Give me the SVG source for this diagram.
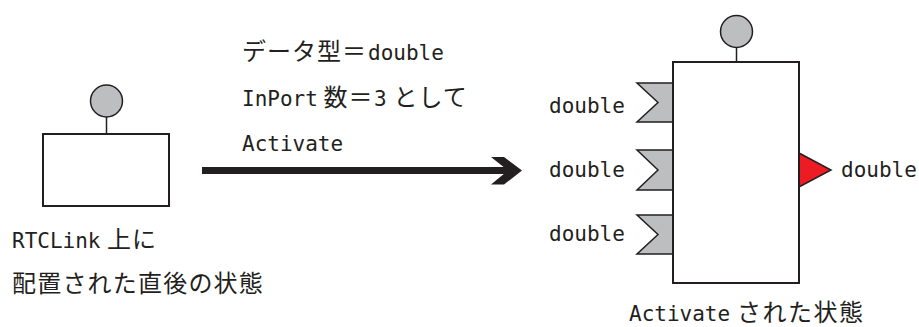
<svg xmlns="http://www.w3.org/2000/svg" width="919" height="327" viewBox="0 0 919 327">
<style>
.lat{font-family:"DejaVu Sans Mono","Liberation Mono",monospace;font-size:21px;fill:#231f20}
.jp{font-family:"Noto Sans CJK JP",sans-serif;font-size:24px;fill:#231f20;letter-spacing:1px}
.box{fill:#fff;stroke:#231f20;stroke-width:2}
.ec{fill:#bcbec0;stroke:#231f20;stroke-width:1.5}
.stem{stroke:#231f20;stroke-width:1.5}
.inp{fill:#bcbec0;stroke:#231f20;stroke-width:1.5;stroke-linejoin:miter}
.outp{fill:#ed1c24;stroke:#231f20;stroke-width:1.5}
</style>
<rect width="919" height="327" fill="#fff"/>
<g id="node-before">
<line class="stem" x1="106.5" y1="117" x2="106.5" y2="134"/>
<circle class="ec" cx="106.5" cy="101" r="16"/>
<rect class="box" x="43" y="134" width="126" height="72"/>
<text x="12" y="248"><tspan class="lat">RTCLink</tspan><tspan class="jp"> 上に</tspan></text>
<text class="jp" x="12" y="292" style="letter-spacing:1.2px">配置された直後の状態</text>
</g>
<g id="node-after">
<line class="stem" x1="736.5" y1="47" x2="736.5" y2="62"/>
<circle class="ec" cx="736.5" cy="31.5" r="16"/>
<polygon class="inp" points="637,83 673,83 673,122 637,122 658,102.5"/>
<polygon class="inp" points="637,150 673,150 673,190 637,190 658,170"/>
<polygon class="inp" points="637,215 673,215 673,254 637,254 658,234.5"/>
<polygon class="outp" points="799,153 831,170 799,187"/>
<rect class="box" x="673" y="62" width="126" height="221"/>
<text class="lat" x="549" y="113">double</text>
<text class="lat" x="549" y="177">double</text>
<text class="lat" x="549" y="241">double</text>
<text class="lat" x="841" y="177">double</text>
<text x="629" y="321"><tspan class="lat">Activate</tspan><tspan class="jp" style="letter-spacing:1.5px"> された状態</tspan></text>
</g>
<g id="connectors">
<line x1="202" y1="170.5" x2="510" y2="170.5" stroke="#231f20" stroke-width="7"/>
<polygon points="491,157 504,157 522,170.5 504,184.5 491,184.5 508,170.5" fill="#231f20"/>
<text x="242" y="60"><tspan class="jp">データ型＝</tspan><tspan class="lat" x="368">double</tspan></text>
<text x="242" y="106"><tspan class="lat">InPort</tspan><tspan class="jp" x="317"> 数＝</tspan><tspan class="lat" x="374">3</tspan><tspan class="jp" x="387"> として</tspan></text>
<text class="lat" x="242" y="151">Activate</text>
</g>
</svg>
